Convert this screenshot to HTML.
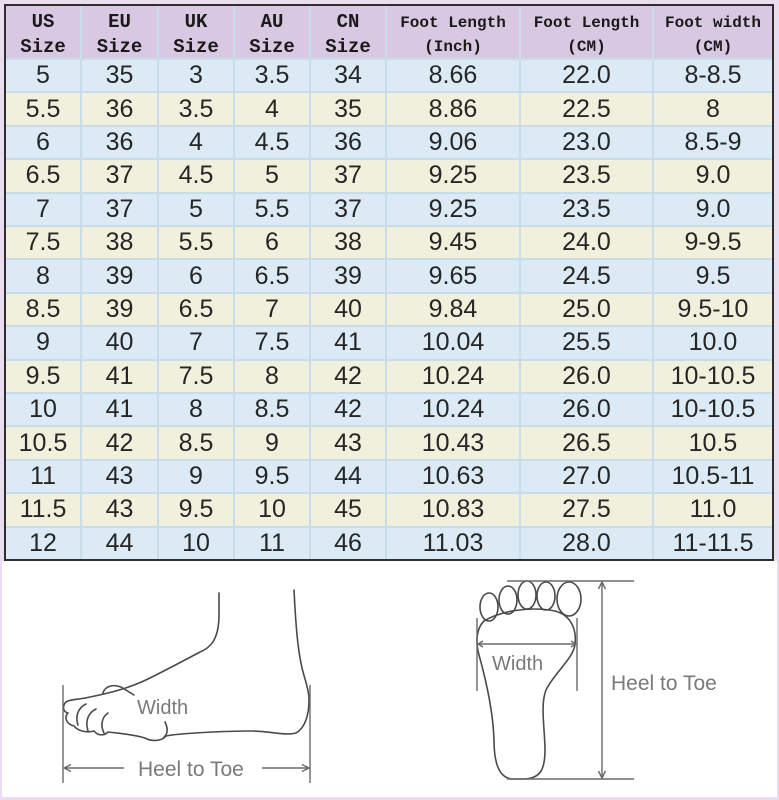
<!DOCTYPE html>
<html>
<head>
<meta charset="utf-8">
<style>
  html,body{margin:0;padding:0;}
  body{width:779px;height:800px;position:relative;background:#e9ddef;overflow:hidden;font-family:"Liberation Sans",sans-serif;}
  .white{position:absolute;left:2px;top:561px;width:775px;height:236px;background:#fff;}
  .tbl{position:absolute;left:4px;top:4px;width:766px;height:553px;border:2px solid #2e2e2e;background:#c9dcea;
       display:grid;grid-template-columns:74px 75px 74px 74px 74px 132px 131px 118px;
       grid-template-rows:52px repeat(15,1fr);gap:2px;}
  .tbl div{display:flex;align-items:center;justify-content:center;text-align:center;color:#262626;font-size:25px;line-height:1;}
  .tbl .h{background:#d8c8e2;font-family:"Liberation Mono",monospace;font-weight:bold;font-size:19px;line-height:25px;color:#1a1a1a;flex-direction:column;padding-top:5px;box-sizing:border-box;}
  .tbl .h2{font-size:16px;line-height:24px;}
  .tbl .b{background:#dbeaf4;}
  .tbl .y{background:#f1f0dc;}
  svg{position:absolute;left:0;top:0;}
</style>
</head>
<body>
<div class="white"></div>
<div class="tbl">
  <div class="h">US<br>Size</div><div class="h">EU<br>Size</div><div class="h">UK<br>Size</div><div class="h">AU<br>Size</div><div class="h">CN<br>Size</div><div class="h h2">Foot Length<br>(Inch)</div><div class="h h2">Foot Length<br>(CM)</div><div class="h h2">Foot width<br>(CM)</div>

  <div class="b">5</div><div class="b">35</div><div class="b">3</div><div class="b">3.5</div><div class="b">34</div><div class="b">8.66</div><div class="b">22.0</div><div class="b">8-8.5</div>
  <div class="y">5.5</div><div class="y">36</div><div class="y">3.5</div><div class="y">4</div><div class="y">35</div><div class="y">8.86</div><div class="y">22.5</div><div class="y">8</div>
  <div class="b">6</div><div class="b">36</div><div class="b">4</div><div class="b">4.5</div><div class="b">36</div><div class="b">9.06</div><div class="b">23.0</div><div class="b">8.5-9</div>
  <div class="y">6.5</div><div class="y">37</div><div class="y">4.5</div><div class="y">5</div><div class="y">37</div><div class="y">9.25</div><div class="y">23.5</div><div class="y">9.0</div>
  <div class="b">7</div><div class="b">37</div><div class="b">5</div><div class="b">5.5</div><div class="b">37</div><div class="b">9.25</div><div class="b">23.5</div><div class="b">9.0</div>
  <div class="y">7.5</div><div class="y">38</div><div class="y">5.5</div><div class="y">6</div><div class="y">38</div><div class="y">9.45</div><div class="y">24.0</div><div class="y">9-9.5</div>
  <div class="b">8</div><div class="b">39</div><div class="b">6</div><div class="b">6.5</div><div class="b">39</div><div class="b">9.65</div><div class="b">24.5</div><div class="b">9.5</div>
  <div class="y">8.5</div><div class="y">39</div><div class="y">6.5</div><div class="y">7</div><div class="y">40</div><div class="y">9.84</div><div class="y">25.0</div><div class="y">9.5-10</div>
  <div class="b">9</div><div class="b">40</div><div class="b">7</div><div class="b">7.5</div><div class="b">41</div><div class="b">10.04</div><div class="b">25.5</div><div class="b">10.0</div>
  <div class="y">9.5</div><div class="y">41</div><div class="y">7.5</div><div class="y">8</div><div class="y">42</div><div class="y">10.24</div><div class="y">26.0</div><div class="y">10-10.5</div>
  <div class="b">10</div><div class="b">41</div><div class="b">8</div><div class="b">8.5</div><div class="b">42</div><div class="b">10.24</div><div class="b">26.0</div><div class="b">10-10.5</div>
  <div class="y">10.5</div><div class="y">42</div><div class="y">8.5</div><div class="y">9</div><div class="y">43</div><div class="y">10.43</div><div class="y">26.5</div><div class="y">10.5</div>
  <div class="b">11</div><div class="b">43</div><div class="b">9</div><div class="b">9.5</div><div class="b">44</div><div class="b">10.63</div><div class="b">27.0</div><div class="b">10.5-11</div>
  <div class="y">11.5</div><div class="y">43</div><div class="y">9.5</div><div class="y">10</div><div class="y">45</div><div class="y">10.83</div><div class="y">27.5</div><div class="y">11.0</div>
  <div class="b">12</div><div class="b">44</div><div class="b">10</div><div class="b">11</div><div class="b">46</div><div class="b">11.03</div><div class="b">28.0</div><div class="b">11-11.5</div>
</div>

<svg width="779" height="800" viewBox="0 0 779 800">
  <g fill="none" stroke="#4a4a4a" stroke-width="1.6" stroke-linecap="round" stroke-linejoin="round">
    <path d="M219,593 L219,615 C219,640 210,648 200,652 C185,660 170,668 150,678 C130,688 110,693 90,697 C78,700 70,699 66,702 C62,706 63,712 68,713 C64,717 66,724 74,726 C78,731 86,733 94,731 C98,736 104,736 108,732 C118,733 135,735 145,738 C152,742 162,741 166,736 C180,733 230,731 250,731 C270,731 285,736 296,733 C305,728 309,715 309,700 C309,690 305,680 302,668 C298,650 296,630 294,590"/>
    <path d="M86,704 C78,708 75,716 78,725"/>
    <path d="M96,709 C88,713 85,721 88,731"/>
    <path d="M108,713 C102,717 100,725 104,733"/>
    <path d="M103,693 C105,686 113,684 121,687 L134,695"/>
    <path d="M165,722 C168,728 168,734 164,737"/>
  </g>
  <g stroke="#6a6a6a" stroke-width="1.4" fill="none">
    <line x1="63" y1="685" x2="63" y2="783"/>
    <line x1="310" y1="685" x2="310" y2="783"/>
    <line x1="64" y1="768" x2="124" y2="768"/>
    <line x1="262" y1="768" x2="309" y2="768"/>
    <polyline points="71,764.5 64,768 71,771.5"/>
    <polyline points="302,764.5 309,768 302,771.5"/>
  </g>
  <g font-family="Liberation Sans, sans-serif" fill="#7a7a7a">
    <text x="137" y="714" font-size="20">Width</text>
    <text x="138" y="776" font-size="21">Heel to Toe</text>
  </g>

  <g fill="none" stroke="#4a4a4a" stroke-width="1.6">
    <ellipse cx="489" cy="607" rx="9" ry="14"/>
    <ellipse cx="508" cy="600" rx="9" ry="14"/>
    <ellipse cx="527" cy="595" rx="9" ry="14"/>
    <ellipse cx="546" cy="596" rx="9" ry="14"/>
    <ellipse cx="569" cy="599" rx="12" ry="17"/>
    <path d="M484,621 C500,611 530,606 555,611 C570,615 577,628 575,645 C572,660 555,672 546,690 C540,705 545,730 545,750 C545,770 540,778 525,779 L512,779 C500,778 494,765 494,740 C493,710 486,680 479,655 C475,640 477,628 484,621 Z"/>
  </g>
  <g stroke="#6a6a6a" stroke-width="1.4" fill="none">
    <line x1="507" y1="581" x2="634" y2="581"/>
    <line x1="507" y1="779" x2="634" y2="779"/>
    <line x1="602" y1="582" x2="602" y2="778"/>
    <polyline points="598.5,589 602,582 605.5,589"/>
    <polyline points="598.5,771 602,778 605.5,771"/>
    <line x1="477" y1="618" x2="477" y2="691"/>
    <line x1="577" y1="618" x2="577" y2="691"/>
    <line x1="478" y1="644" x2="576" y2="644"/>
    <polyline points="483,641 478,644 483,647"/>
    <polyline points="571,641 576,644 571,647"/>
  </g>
  <g font-family="Liberation Sans, sans-serif" fill="#7a7a7a">
    <text x="492" y="670" font-size="20">Width</text>
    <text x="611" y="690" font-size="21">Heel to Toe</text>
  </g>
</svg>
</body>
</html>
